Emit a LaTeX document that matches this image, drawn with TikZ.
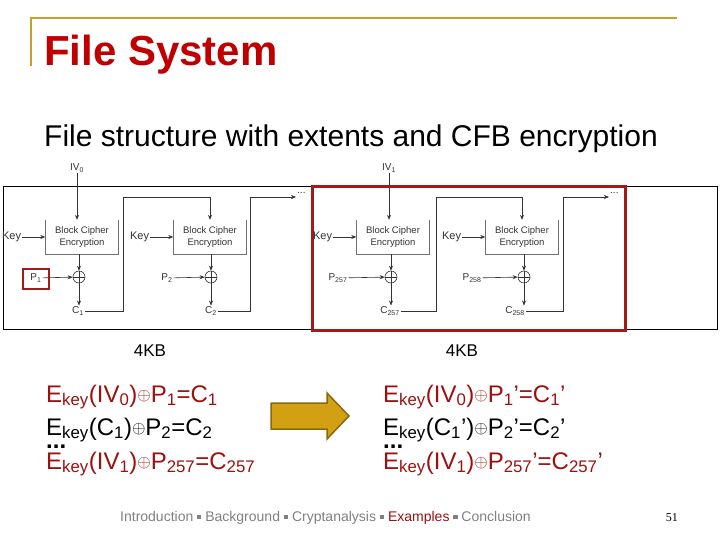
\documentclass[tikz,border=0pt]{standalone}
\usepackage{fontspec}
\setmainfont{Liberation Sans}
\newfontfamily\numfont{Liberation Serif}
\usepackage{tikz}
\usetikzlibrary{arrows.meta,calc}
\definecolor{titlered}{HTML}{C00000}
\definecolor{eqred}{HTML}{9C1010}
\definecolor{headgold}{HTML}{C4A02C}
\definecolor{boxred}{HTML}{A11B1B}
\definecolor{diag}{HTML}{333333}
\definecolor{navgray}{HTML}{808080}
\definecolor{gold}{HTML}{D2A012}
\definecolor{golddark}{HTML}{8A6A0C}
\newcommand{\navsep}{~\raisebox{0.12em}{\rule{0.3em}{0.3em}}~}
\newcommand{\xorsym}{\raisebox{0.08em}{\fontsize{17}{17}\selectfont$\oplus$}}

\begin{document}
\begin{tikzpicture}[x=1pt, y=-1pt, >={Stealth[length=5pt,width=4pt]},
    lbl/.style={diag, inner sep=1pt, font=\fontsize{10}{12}\selectfont},
    flow/.style={diag, line width=0.6pt, ->},
    eq/.style={anchor=base west, inner sep=0pt, font=\fontsize{24}{28}\selectfont}]
    \useasboundingbox (0,0) rectangle (720,540);
    % Heading with its gold rule.
    \draw[headgold, line width=2pt] (31,66) -- (31,18) -- (677,18);
    \node[titlered, anchor=base west, inner sep=0pt, font=\fontsize{42}{46}\selectfont\bfseries] (title) at (44,66) {File System};
    \node[anchor=base west, inner sep=0pt, font=\fontsize{30}{34}\selectfont] (subtitle) at (44,147) {File structure with extents and CFB encryption};
    % The chained blocks, two per extent.
    \draw[black, line width=0.8pt] (3,186) rectangle (717,329);
    \foreach \i/\bx/\cx/\px/\lx/\n in {1/82/79/36/78/1, 2/210/211/167/211/2, 3/393/391/338/390/257, 4/522/524/472/515/258} {
      \node[lbl, minimum width=73, minimum height=34, align=center, font=\fontsize{9.5}{12}\selectfont] (blk\i) at (\bx,237) {Block Cipher\\Encryption};
      \draw[diag!70, line width=0.8pt] (blk\i.north west) -- (blk\i.south west) -- (blk\i.south east) -- (blk\i.north east);
      \node[lbl, anchor=east, font=\fontsize{11}{12}\selectfont] (key\i) at ($(blk\i.west)+(-23,0)$) {Key};
      \draw[flow] (key\i) -- (blk\i);
      \node[diag, circle, draw, line width=0.6pt, inner sep=0pt, minimum size=12] (xor\i) at (\cx,277) {};
      \draw[diag, line width=0.6pt] (xor\i.north) -- (xor\i.south) (xor\i.west) -- (xor\i.east);
      \draw[flow] (xor\i |- blk\i.south) -- (xor\i);
      \node[lbl] (p\i) at (\px,278) {P\textsubscript{\n}};
      \draw[flow] (p\i) -- (xor\i);
      \node[lbl] (c\i) at (\lx,311) {C\textsubscript{\n}};
      \draw[flow] (xor\i) -- (xor\i |- c\i.north);
    }
    % Inputs and the feedback from each ciphertext.
    \node[lbl] (iv0) at (77,168) {IV\textsubscript{0}};
    \node[lbl] (iv1) at (389,168) {IV\textsubscript{1}};
    \draw[flow] (iv0) -- (iv0 |- blk1.north);
    \draw[flow] (iv1) -- (iv1 |- blk3.north);
    \node[lbl, anchor=west] (more1) at (296,193) {...};
    \node[lbl, anchor=west] (more2) at (609,193) {...};
    \foreach \i/\x in {1/123, 2/250, 3/436, 4/563} {
      \coordinate (up\i) at (\x,197);
    }
    \draw[flow] (c1.east) -| (up1) -| (blk2.north);
    \draw[flow] (c2.east) -| (up2) -- (up2 -| more1.west);
    \draw[flow] (c3.east) -| (up3) -| (blk4.north);
    \draw[flow] (c4.east) -| (up4) -- (up4 -| more2.west);
    % Highlights.
    \draw[boxred, line width=3pt] (312,187) rectangle (625,330);
    \draw[boxred, line width=2pt] (23,269) rectangle (49,289);
    \node[font=\fontsize{17}{19}\selectfont] (size1) at (150,351) {4KB};
    \node[font=\fontsize{17}{19}\selectfont] (size2) at (462,351) {4KB};
    % The equations, before and after.
    \node[eq, eqred] (lhs1) at (46,402) {E\textsubscript{key}(IV\textsubscript{0})\xorsym P\textsubscript{1}=C\textsubscript{1}};
    \node[eq] (lhs2) at (46,435) {E\textsubscript{key}(C\textsubscript{1})\xorsym P\textsubscript{2}=C\textsubscript{2}};
    \node[eq] (lhsdots) at (46,448) {\textbf{...}};
    \node[eq, eqred] (lhs3) at (46,469) {E\textsubscript{key}(IV\textsubscript{1})\xorsym P\textsubscript{257}=C\textsubscript{257}};
    \node[eq, eqred] (rhs1) at (383,402) {E\textsubscript{key}(IV\textsubscript{0})\xorsym P\textsubscript{1}’=C\textsubscript{1}’};
    \node[eq] (rhs2) at (383,435) {E\textsubscript{key}(C\textsubscript{1}’)\xorsym P\textsubscript{2}’=C\textsubscript{2}’};
    \node[eq] (rhsdots) at (383,448) {\textbf{...}};
    \node[eq, eqred] (rhs3) at (383,469) {E\textsubscript{key}(IV\textsubscript{1})\xorsym P\textsubscript{257}’=C\textsubscript{257}’};
    \draw[fill=gold, draw=golddark, line width=1.5pt] (271,403) -- (327,403) -- (327,393) -- (349,416) -- (327,439) -- (327,429) -- (271,429) -- cycle;
    % Footer.
    \node[navgray, anchor=base west, inner sep=0pt, font=\fontsize{14}{16}\selectfont] (nav) at (120,521) {Introduction\navsep Background\navsep Cryptanalysis\navsep \textcolor{eqred}{Examples}\navsep Conclusion};
    \node[anchor=base east, inner sep=0pt, font=\numfont\fontsize{12}{14}\selectfont] (page) at (678,521) {51};
  \end{tikzpicture}
\end{document}
